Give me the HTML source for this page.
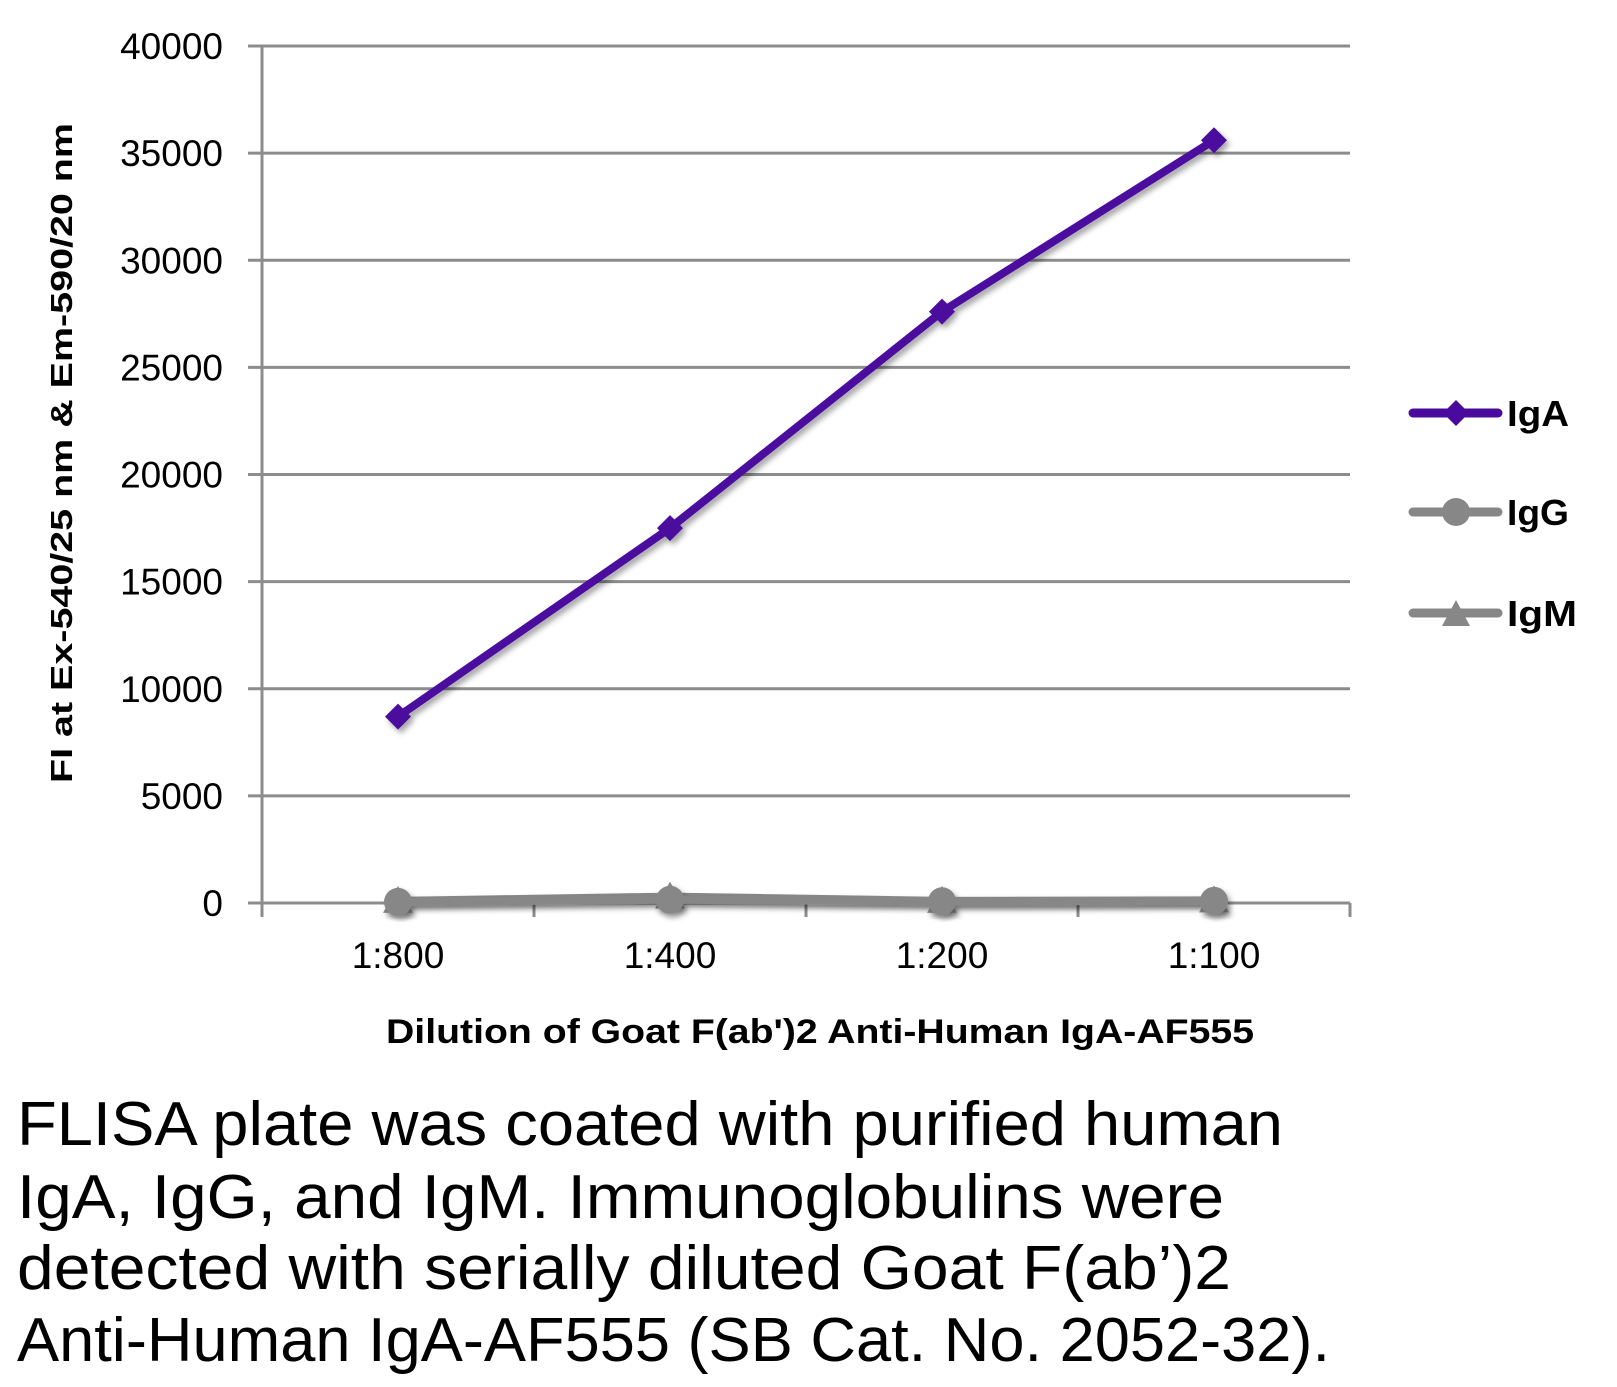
<!DOCTYPE html>
<html><head><meta charset="utf-8"><style>
html,body{margin:0;padding:0;background:#fff;}
svg{display:block;}
</style></head><body>
<svg id="chart" width="1617" height="1387" viewBox="0 0 1617 1387" xmlns="http://www.w3.org/2000/svg" font-family="'Liberation Sans', sans-serif">
<defs>
<filter id="sh" x="-10%" y="-10%" width="120%" height="130%"><feDropShadow dx="3" dy="4" stdDeviation="3" flood-color="#000" flood-opacity="0.35"/></filter>
</defs>
<g id="grid"></g>
<g id="axes"></g>
<g id="series"></g>
<text transform="translate(72,453) rotate(-90)" text-anchor="middle" font-weight="bold" font-size="31" textLength="660" lengthAdjust="spacingAndGlyphs">FI at Ex-540/25 nm &amp; Em-590/20 nm</text>
<text x="820" y="1043" text-anchor="middle" font-weight="bold" font-size="34" textLength="868" lengthAdjust="spacingAndGlyphs">Dilution of Goat F(ab')2 Anti-Human IgA-AF555</text>
<g>
<g>
<line x1="1413" y1="413" x2="1498" y2="413" stroke="#4b0a9e" stroke-width="9" stroke-linecap="round"/>
<polygon points="1456,400 1469,413 1456,426 1443,413" fill="#4b0a9e"/>
<text x="1507" y="426" font-weight="bold" font-size="36" textLength="62" lengthAdjust="spacingAndGlyphs">IgA</text></g>
<g>
<line x1="1413" y1="512" x2="1498" y2="512" stroke="#878787" stroke-width="9" stroke-linecap="round"/>
<circle cx="1456" cy="512" r="14" fill="#878787"/>
<text x="1507" y="525" font-weight="bold" font-size="36" textLength="62" lengthAdjust="spacingAndGlyphs">IgG</text></g>
<g>
<line x1="1413" y1="613" x2="1498" y2="613" stroke="#878787" stroke-width="9" stroke-linecap="round"/>
<polygon points="1456,600 1470,626 1442,626" fill="#878787"/>
<text x="1507" y="626" font-weight="bold" font-size="36" textLength="70" lengthAdjust="spacingAndGlyphs">IgM</text></g>
</g>
<g font-size="62">
<text x="17" y="1145" textLength="1266" lengthAdjust="spacingAndGlyphs">FLISA plate was coated with purified human</text>
<text x="17" y="1218" textLength="1207" lengthAdjust="spacingAndGlyphs">IgA, IgG, and IgM.  Immunoglobulins were</text>
<text x="17" y="1289" textLength="1214" lengthAdjust="spacingAndGlyphs">detected with serially diluted Goat F(ab’)2</text>
<text x="17" y="1361" textLength="1313" lengthAdjust="spacingAndGlyphs">Anti-Human IgA-AF555 (SB Cat. No. 2052-32).</text>
</g>
</svg>
<script>
const categories = ["1:800","1:400","1:200","1:100"];
const igaValues = [8700, 17500, 27600, 35600];
const iggValues = [50, 150, 80, 100];
const igmValues = [100, 300, 100, 120];
const yTicks = [0,5000,10000,15000,20000,25000,30000,35000,40000];

const NS="http://www.w3.org/2000/svg";
const X0=262, X1=1350, Y0=903, Y1=46, YMAX=40000;
const band=(X1-X0)/categories.length;
function xPos(i){return X0+band*(i+0.5);}
function yPos(v){return Y0-(v/YMAX)*(Y0-Y1);}
function mk(tag,attrs,parent){const e=document.createElementNS(NS,tag);for(const k in attrs)e.setAttribute(k,attrs[k]);parent.appendChild(e);return e;}

const grid=document.getElementById('grid'), axes=document.getElementById('axes'), ser=document.getElementById('series');
yTicks.forEach(v=>{
  const y=yPos(v);
  const l=mk('line',{x1:248,x2:X1,y1:y,y2:y,stroke:'#8c8c8c','stroke-width':3},grid);
  
  
  const t=mk('text',{x:223,y:y+13,'text-anchor':'end','font-size':37},axes);
  t.textContent=v;
  
  
});
const ya=mk('line',{x1:X0,x2:X0,y1:Y1,y2:Y0+14,stroke:'#8c8c8c','stroke-width':3},axes);


for(let i=0;i<=categories.length;i++){
  const x=X0+band*i;
  const tk=mk('line',{x1:x,x2:x,y1:Y0,y2:Y0+14,stroke:'#8c8c8c','stroke-width':3},axes);
  
  
}
categories.forEach((c,i)=>{
  const t=mk('text',{x:xPos(i),y:968,'text-anchor':'middle','font-size':37},axes);
  t.textContent=c;
  
  
});

function drawSeries(vals,color,marker,name){
  const g=mk('g',{filter:'url(#sh)'},ser);
  
  
  const pts=vals.map((v,i)=>xPos(i)+','+yPos(v)).join(' ');
  const pl=mk('polyline',{points:pts,fill:'none',stroke:color,'stroke-width':8,'stroke-linejoin':'round'},g);
  
  
  vals.forEach((v,i)=>{
    const x=xPos(i),y=yPos(v);let m;
    if(marker==='diamond') m=mk('polygon',{points:`${x},${y-13} ${x+13},${y} ${x},${y+13} ${x-13},${y}`,fill:color},g);
    else if(marker==='circle') m=mk('circle',{cx:x,cy:y,r:14,fill:color},g);
    else m=mk('polygon',{points:`${x},${y-15} ${x+15},${y+12} ${x-15},${y+12}`,fill:color},g);
    
    
  });
}
drawSeries(igmValues,'#878787','triangle','igm');
drawSeries(iggValues,'#878787','circle','igg');
drawSeries(igaValues,'#4b0a9e','diamond','iga');
</script>
</body></html>
